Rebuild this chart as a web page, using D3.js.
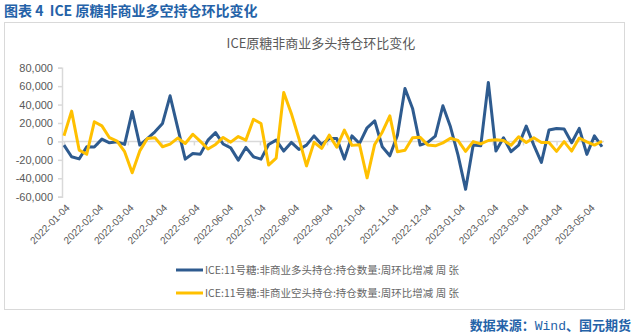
<!DOCTYPE html>
<html><head><meta charset="utf-8">
<script src="https://cdn.jsdelivr.net/npm/d3@7"></script>
<style>body{margin:0;background:#fff;}svg{display:block;}</style>
</head><body>
<svg id="c" width="634" height="336"></svg>
<script>
const startDate = "2022-01-04";
const weeksCount = 72;
const tickLabels = ["2022-01-04","2022-02-04","2022-03-04","2022-04-04","2022-05-04","2022-06-04","2022-07-04","2022-08-04","2022-09-04","2022-10-04","2022-11-04","2022-12-04","2023-01-04","2023-02-04","2023-03-04","2023-04-04","2023-05-04"];
const yTicks = [-60000,-40000,-20000,0,20000,40000,60000,80000];
const seriesNames = ["ICE:11号糖:非商业多头持仓:持仓数量:周环比增减 周 张","ICE:11号糖:非商业空头持仓:持仓数量:周环比增减 周 张"];
const longChange = [-4000,-16700,-19000,-5800,-6000,2500,-1500,-500,-3300,32500,
 -4000,3000,10400,19500,49500,15000,-19200,-13200,-13800,1400,
 9600,-2800,-7000,-20300,-6500,-16700,-19200,-3300,1400,-10500,
 -1100,-8700,-4000,6000,-3300,3200,3200,-19200,6000,-2200,
 14800,22400,-5800,-15600,6800,57500,35800,-4000,-1000,5700,
 38700,15900,-14900,-52000,-4000,-4700,64000,-10500,4000,-11200,
 -4000,16600,-4000,-22800,12300,14100,13400,-1500,14100,-14100,
 6000,-5800];
const shortChange = [6100,32900,-9400,-13900,21300,16800,4000,300,-11200,-34000,
 -10300,3200,4100,-5800,-2900,3600,-2200,7800,0,-8200,
 -3300,4300,-800,5300,1400,24000,19500,-25700,-18100,53200,
 30400,3200,-26600,-1000,-7600,6800,-6300,12300,-4300,-3600,
 -39500,-3300,10000,27800,-11200,-9600,4000,4500,-3800,-4800,
 -1600,3400,1000,-10800,-200,-2700,1000,1800,900,-4100,
 5100,-1200,4000,-1200,-1200,-10800,-200,-10500,3600,-500,
 -4000,200];
const seriesColors = ["#2e5b8f","#ffc000"];

const parse = d3.timeParse("%Y-%m-%d");
const t0 = parse(startDate);
const dates = d3.range(weeksCount).map(i => d3.timeDay.offset(t0, 7*i));

const svg = d3.select("#c");
svg.append("rect").attr("x",4.5).attr("y",22.5).attr("width",620).attr("height",287)
  .attr("fill","none").attr("stroke","#d9d9d9").attr("stroke-width",1);

svg.append("text").attr("x",4).attr("y",16).attr("xml:space","preserve")
  .style("white-space","pre")
  .attr("font-family","'Noto Sans CJK SC'").attr("font-size",14).attr("font-weight","bold")
  .attr("fill","#2462a8").text("图表 4  ICE 原糖非商业多空持仓环比变化");

svg.append("text").attr("x",321).attr("y",48).attr("text-anchor","middle")
  .attr("font-family","'Noto Sans CJK SC'").attr("font-size",13).attr("fill","#595959")
  .text("ICE原糖非商业多头持仓环比变化");

const x = d3.scaleTime().domain([dates[0], dates[dates.length-1]]).range([64, 602]);
const y = d3.scaleLinear().domain([-60000, 80000]).range([196.7, 67.7]);

const yAxis = d3.axisLeft(y).tickValues(yTicks).tickSize(4).tickPadding(5)
  .tickFormat(d => d3.format(",")(d).replace("−","-"));
const gy = svg.append("g").attr("transform","translate(62,0)").call(yAxis);
gy.select(".domain").attr("stroke","#d9d9d9").attr("stroke-width",1.5);
gy.selectAll(".tick line").attr("stroke","#d9d9d9").attr("stroke-width",1.5);
gy.selectAll(".tick text").attr("font-family","'Liberation Sans', Arial").attr("font-size",11).attr("fill","#595959");

const tickDates = tickLabels.map(parse);
const xAxis = d3.axisBottom(x).tickValues(tickDates).tickSize(4).tickFormat("");
const gx = svg.append("g").attr("transform",`translate(0,${y(0)})`).call(xAxis);
gx.select(".domain").attr("d",`M62,0H604`).attr("stroke","#d9d9d9").attr("stroke-width",1.5);
gx.selectAll(".tick line").attr("stroke","#d9d9d9").attr("stroke-width",1.5);

svg.append("g").selectAll("text").data(tickLabels).join("text")
  .attr("transform", d => `translate(${x(parse(d))+4},206) rotate(-45)`)
  .attr("text-anchor","end").attr("dy","0.35em")
  .attr("font-family","'Liberation Sans', Arial").attr("font-size",10).attr("fill","#595959")
  .text(d => d);

const line = d3.line().x((d,i)=>x(dates[i])).y(d=>y(d));
[longChange, shortChange].forEach((s,k)=>{
  svg.append("path").datum(s).attr("d",line).attr("fill","none")
    .attr("stroke",seriesColors[k]).attr("stroke-width",3).attr("stroke-linejoin","round");
});

const lg = svg.append("g");
seriesNames.forEach((n,k)=>{
  const yy = 270 + k*23;
  lg.append("line").attr("x1",176).attr("x2",203).attr("y1",yy).attr("y2",yy)
    .attr("stroke",seriesColors[k]).attr("stroke-width",3);
  lg.append("text").attr("x",205).attr("y",yy).attr("dy","0.35em")
    .attr("font-family","'Noto Sans CJK SC'").attr("font-size",10.5).attr("fill","#666666").text(n);
});

const src = svg.append("text").attr("x",631).attr("y",330).attr("text-anchor","end")
  .attr("font-family","'Noto Sans CJK SC'").attr("font-size",13).attr("font-weight","bold").attr("fill","#2462a8");
src.append("tspan").text("数据来源：");
src.append("tspan").attr("font-family","'Liberation Mono', 'DejaVu Sans Mono'").attr("font-weight","normal").text("Wind");
src.append("tspan").text("、国元期货");
</script>
</body></html>
